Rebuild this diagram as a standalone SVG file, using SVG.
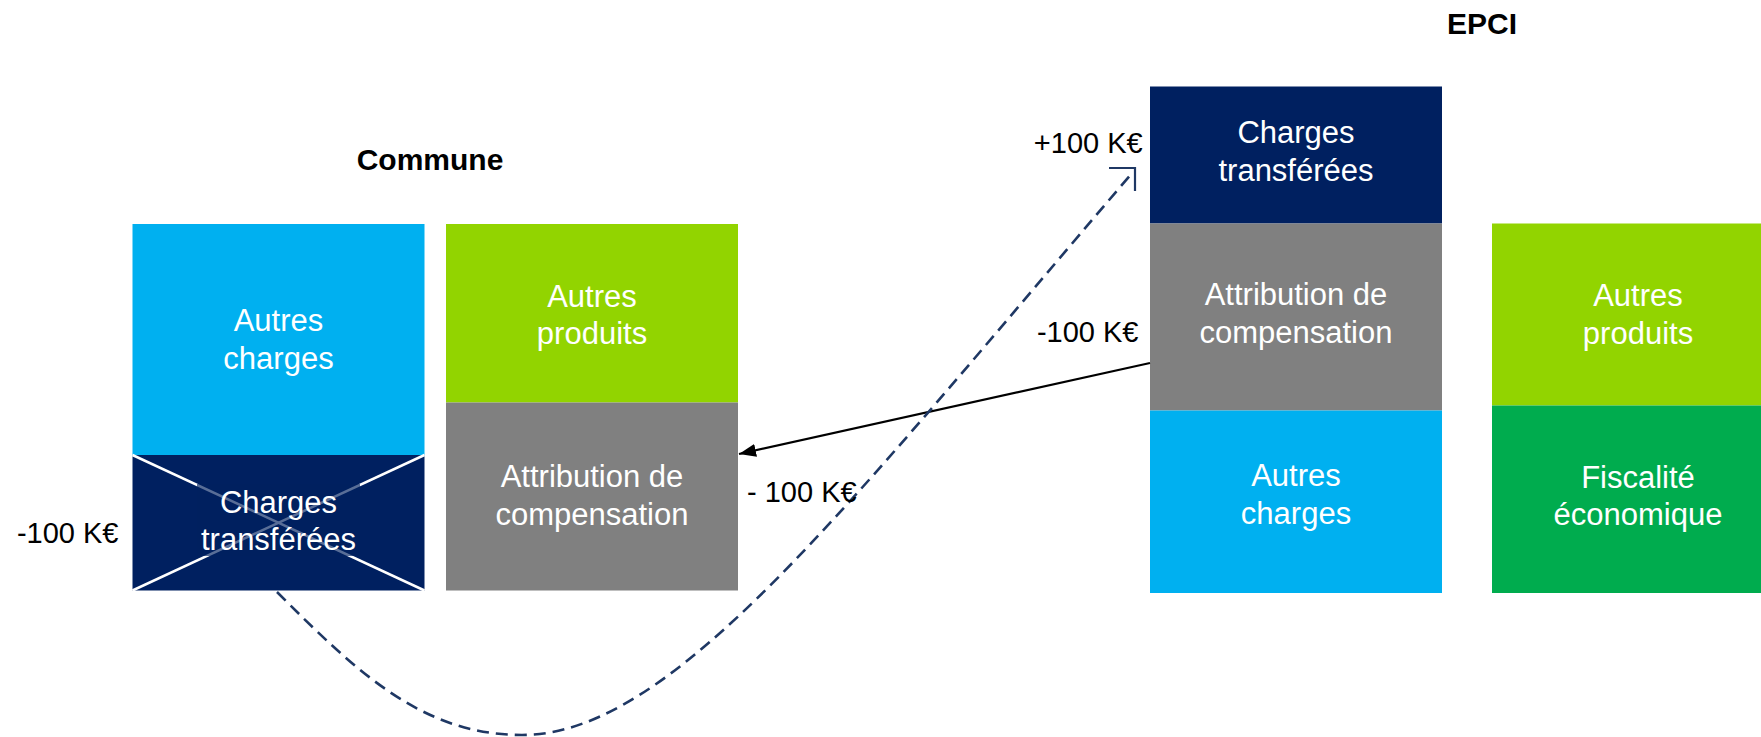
<svg xmlns="http://www.w3.org/2000/svg" width="1761" height="737" viewBox="0 0 1761 737">
<style>
.bt{font-family:"Liberation Sans",Arial,sans-serif;font-size:31px;fill:#fff;text-anchor:middle}
.lb{font-family:"Liberation Sans",Arial,sans-serif;font-size:29px;fill:#000}
.tt{font-family:"Liberation Sans",Arial,sans-serif;font-size:30px;font-weight:bold;fill:#000;text-anchor:middle}
.navy{fill:#002060}.blue{fill:#00B0F0}.lime{fill:#92D400}.grey{fill:#808080}.green{fill:#00AC4E}
</style>
<defs>
<marker id="ah" viewBox="0 0 10 10" refX="10" refY="5" markerWidth="17" markerHeight="13" markerUnits="userSpaceOnUse" orient="auto" preserveAspectRatio="none">
<path d="M0,0 L10,5 L0,10 z" fill="#000"/>
</marker>
</defs>
<rect width="1761" height="737" fill="#fff"/>
<text class="tt" x="430" y="169.5">Commune</text>
<text class="tt" x="1482" y="34">EPCI</text>

<g id="commune-autres-charges">
<rect class="blue" x="132.5" y="224" width="292" height="231"/>
<text class="bt" x="278.5" y="331">Autres</text>
<text class="bt" x="278.5" y="369">charges</text>
</g>
<g id="commune-charges-transferees">
<rect class="navy" x="132.5" y="455" width="292" height="135.5"/>
<line x1="132.5" y1="455" x2="424.5" y2="590.5" stroke="#fff" stroke-width="2.5"/>
<line x1="424.5" y1="455" x2="132.5" y2="590.5" stroke="#fff" stroke-width="2.5"/>
<rect x="197" y="484" width="163" height="72" fill="#002060" fill-opacity="0.65"/>
<text class="bt" x="278.5" y="512.5">Charges</text>
<text class="bt" x="278.5" y="550">transférées</text>
</g>
<g id="commune-autres-produits">
<rect class="lime" x="446" y="224" width="292" height="178.5"/>
<text class="bt" x="592" y="306.5">Autres</text>
<text class="bt" x="592" y="344">produits</text>
</g>
<g id="commune-attribution">
<rect class="grey" x="446" y="402.5" width="292" height="188"/>
<text class="bt" x="592" y="487">Attribution de</text>
<text class="bt" x="592" y="525">compensation</text>
</g>

<g id="epci-charges-transferees">
<rect class="navy" x="1150" y="86.5" width="292" height="137"/>
<text class="bt" x="1296" y="143">Charges</text>
<text class="bt" x="1296" y="181">transférées</text>
</g>
<g id="epci-attribution">
<rect class="grey" x="1150" y="223.5" width="292" height="187"/>
<text class="bt" x="1296" y="305">Attribution de</text>
<text class="bt" x="1296" y="343">compensation</text>
</g>
<g id="epci-autres-charges">
<rect class="blue" x="1150" y="410.5" width="292" height="182.5"/>
<text class="bt" x="1296" y="486">Autres</text>
<text class="bt" x="1296" y="524">charges</text>
</g>
<g id="epci-autres-produits">
<rect class="lime" x="1492" y="223.5" width="292" height="182"/>
<text class="bt" x="1638" y="306">Autres</text>
<text class="bt" x="1638" y="343.5">produits</text>
</g>
<g id="epci-fiscalite">
<rect class="green" x="1492" y="405.5" width="292" height="187.5"/>
<text class="bt" x="1638" y="488">Fiscalité</text>
<text class="bt" x="1638" y="525">économique</text>
</g>

<g id="connectors">
<line x1="1150" y1="363" x2="739" y2="454" stroke="#000" stroke-width="2.2" marker-end="url(#ah)"/>
<path d="M277,592 C357,672 422,735 522,735 C672,735 843,511 1133,172" fill="none" stroke="#1F3864" stroke-width="2.6" stroke-dasharray="12,7"/>
<path d="M1109,168 L1135,168 L1135,191" fill="none" stroke="#1F3864" stroke-width="2.2"/>
</g>

<g id="labels">
<text class="lb" x="118.5" y="542.7" text-anchor="end">-100 K€</text>
<text class="lb" x="747" y="502">- 100 K€</text>
<text class="lb" x="1138.5" y="341.7" text-anchor="end">-100 K€</text>
<text class="lb" x="1142.7" y="152.7" text-anchor="end">+100 K€</text>
</g>
</svg>
